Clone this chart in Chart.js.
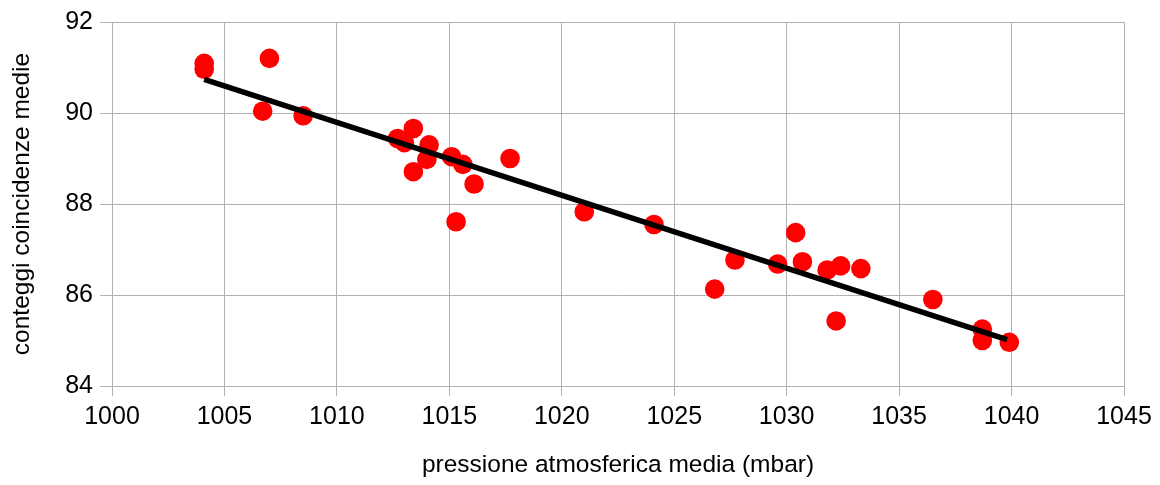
<!DOCTYPE html>
<html lang="it">
<head>
    <meta charset="UTF-8">
    <title>Conteggi vs pressione</title>
    <script src="https://cdn.jsdelivr.net/npm/chart.js"></script>
    <style>
        html, body { margin: 0; padding: 0; background: #fff; }
        #wrap { width: 1160px; height: 485px; }
    </style>
</head>
<body>
    <div id="wrap"><canvas id="grafico"></canvas></div>

    <script>
        // pressione atmosferica media (mbar)
        const pressione = [
            1004.1, 1004.1, 1007.0, 1006.7, 1008.5, 1012.7, 1013.0, 1013.4,
            1014.1, 1014.0, 1013.4, 1015.1, 1015.6, 1016.1, 1015.3, 1017.7,
            1021.0, 1024.1, 1026.8, 1027.7, 1029.6, 1030.4, 1030.7, 1031.8,
            1032.4, 1033.3, 1032.2, 1036.5, 1038.7, 1038.7, 1039.9
        ];
        // conteggi coincidenze medie
        const conteggi = [
            91.09, 90.96, 91.20, 90.04, 89.94, 89.44, 89.35, 89.66,
            89.30, 88.98, 88.71, 89.04, 88.87, 88.44, 87.61, 89.00,
            87.83, 87.55, 86.13, 86.77, 86.68, 87.37, 86.73, 86.55,
            86.64, 86.58, 85.43, 85.90, 85.25, 85.00, 84.96
        ];
        // retta di regressione (estremi)
        const rettaX = [1004.1, 1039.8];
        const rettaY = [90.74, 85.02];

        const fontBase = 'Liberation Sans, Arial, sans-serif';

        document.addEventListener('DOMContentLoaded', function () {
            const punti = pressione.map((p, i) => ({ x: p, y: conteggi[i] }));
            const retta = rettaX.map((p, i) => ({ x: p, y: rettaY[i] }));

            new Chart(document.getElementById('grafico'), {
                type: 'scatter',
                data: {
                    datasets: [
                        {
                            label: 'retta',
                            type: 'line',
                            data: retta,
                            borderColor: '#000000',
                            borderWidth: 5.5,
                            borderCapStyle: 'butt',
                            pointRadius: 0,
                            fill: false,
                            order: 0
                        },
                        {
                            label: 'dati',
                            data: punti,
                            backgroundColor: '#ff0000',
                            borderWidth: 0,
                            pointRadius: 9.8,
                            pointHoverRadius: 9.8,
                            order: 1
                        }
                    ]
                },
                options: {
                    responsive: true,
                    maintainAspectRatio: false,
                    animation: false,
                    layout: { padding: { top: 19, right: 36, left: 0, bottom: 0 } },
                    plugins: {
                        legend: { display: false },
                        tooltip: { enabled: false }
                    },
                    scales: {
                        x: {
                            type: 'linear',
                            min: 1000,
                            max: 1045,
                            afterFit: function (s) { s.height = 99; },
                            ticks: {
                                stepSize: 5,
                                color: '#000',
                                padding: 6,
                                maxRotation: 0,
                                font: { family: fontBase, size: 25 },
                                callback: function (v) { return String(v); }
                            },
                            grid: { color: '#b3b3b3', tickLength: 10 },
                            border: { color: '#b3b3b3' },
                            title: {
                                display: true,
                                text: 'pressione atmosferica media (mbar)',
                                color: '#000',
                                padding: { top: 0, bottom: 5 },
                                font: { family: fontBase, size: 24.5 }
                            }
                        },
                        y: {
                            min: 84,
                            max: 92,
                            afterFit: function (s) { s.width = 112; },
                            ticks: {
                                stepSize: 2,
                                color: '#000',
                                padding: 7,
                                font: { family: fontBase, size: 25 },
                                callback: function (v) { return String(v); }
                            },
                            grid: { color: '#b3b3b3', tickLength: 12 },
                            border: { color: '#b3b3b3' },
                            title: {
                                display: true,
                                text: 'conteggi coincidenze medie',
                                color: '#000',
                                padding: { top: 8, bottom: 0 },
                                font: { family: fontBase, size: 24.5 }
                            }
                        }
                    }
                }
            });
        });
    </script>
</body>
</html>
